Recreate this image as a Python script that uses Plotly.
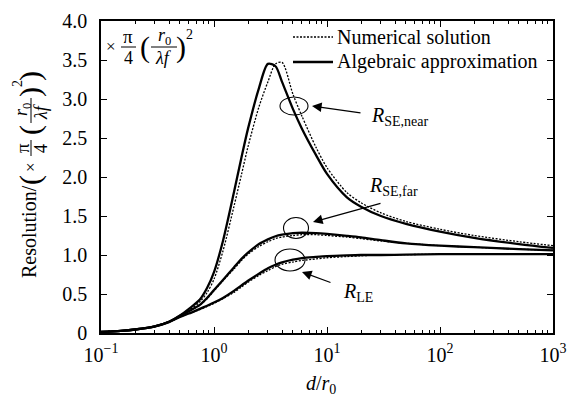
import plotly.graph_objects as go

# ---------------- data ----------------
x_vals = [0.1, 0.15, 0.2, 0.3, 0.4, 0.5, 0.6, 0.75, 0.87, 1.0, 1.2, 1.5, 1.75, 2.0,
          2.5, 3.0, 3.5, 4.0, 5.0, 6.0, 8.0, 10, 15, 20, 30, 50, 100, 200, 500, 1000]

near_alg = [0.015, 0.028, 0.045, 0.085, 0.145, 0.225, 0.31, 0.43, 0.58, 0.78, 1.18,
            1.80, 2.25, 2.62, 3.14, 3.45, 3.42, 3.22, 2.87, 2.62, 2.28, 2.04, 1.74,
            1.62, 1.50, 1.40, 1.30, 1.22, 1.14, 1.09]
near_num = [0.015, 0.028, 0.045, 0.085, 0.14, 0.215, 0.29, 0.40, 0.52, 0.69, 1.05,
            1.62, 2.03, 2.39, 2.90, 3.22, 3.45, 3.47, 3.06, 2.78, 2.38, 2.12, 1.80,
            1.67, 1.54, 1.43, 1.33, 1.25, 1.17, 1.12]
far_alg = [0.015, 0.028, 0.045, 0.085, 0.145, 0.22, 0.28, 0.36, 0.45, 0.55, 0.68,
           0.84, 0.95, 1.03, 1.14, 1.20, 1.24, 1.26, 1.28, 1.285, 1.28, 1.27, 1.245,
           1.225, 1.19, 1.15, 1.12, 1.10, 1.075, 1.06]
far_num = [0.015, 0.028, 0.045, 0.085, 0.145, 0.22, 0.28, 0.36, 0.44, 0.54, 0.67,
           0.82, 0.93, 1.01, 1.11, 1.17, 1.21, 1.23, 1.25, 1.26, 1.26, 1.25, 1.23,
           1.21, 1.18, 1.15, 1.12, 1.10, 1.075, 1.06]
le_alg = [0.015, 0.028, 0.045, 0.085, 0.14, 0.205, 0.25, 0.31, 0.35, 0.39, 0.45,
          0.54, 0.61, 0.67, 0.76, 0.83, 0.875, 0.905, 0.94, 0.96, 0.975, 0.985,
          0.995, 1.0, 1.0, 1.005, 1.01, 1.01, 1.01, 1.01]
le_num = [0.015, 0.028, 0.045, 0.085, 0.14, 0.205, 0.25, 0.30, 0.34, 0.38, 0.44,
          0.52, 0.59, 0.65, 0.74, 0.80, 0.85, 0.88, 0.91, 0.93, 0.95, 0.965,
          0.98, 0.99, 1.0, 1.005, 1.01, 1.01, 1.01, 1.01]

legend_labels = ["Numerical solution", "Algebraic approximation"]
curve_labels = ["<i>R</i><sub>SE,near</sub>", "<i>R</i><sub>SE,far</sub>",
                "<i>R</i><sub>LE</sub>"]
x_title = "<i>d</i>/<i>r</i><sub>0</sub>"

x_tickvals = [0.1, 1, 10, 100, 1000]
x_ticktext = ["10<sup>\u22121</sup>", "10<sup>0</sup>", "10<sup>1</sup>",
              "10<sup>2</sup>", "10<sup>3</sup>"]
y_tickvals = [0, 0.5, 1.0, 1.5, 2.0, 2.5, 3.0, 3.5, 4.0]
y_ticktext = ["0", "0.5", "1.0", "1.5", "2.0", "2.5", "3.0", "3.5", "4.0"]

# ---------------- layout geometry ----------------
W, H = 569, 398
L, R, T, B = 101, 16, 21, 65
PW, PH = W - L - R, H - T - B
FONT = "Liberation Serif, Times New Roman, serif"


def px(xp):
    return (xp - L) / PW


def py(yp):
    return (H - B - yp) / PH


fig = go.Figure()

DASH = dict(color="black", width=1.3, dash="2px,1.5px")
SOLID = dict(color="black", width=2.3)
series = [
    (near_num, legend_labels[0], DASH),
    (near_alg, legend_labels[1], SOLID),
    (far_num, legend_labels[0], DASH),
    (far_alg, legend_labels[1], SOLID),
    (le_num, legend_labels[0], DASH),
    (le_alg, legend_labels[1], SOLID),
]
for yv, name, line in series:
    fig.add_trace(go.Scatter(x=x_vals, y=yv, mode="lines", name=name,
                             line=dict(shape="spline", smoothing=0.8, **line),
                             showlegend=False, hoverinfo="skip"))

annotations = []
shapes = []


def txt(t, xp, yp, size=17, angle=0, xanchor="center"):
    annotations.append(dict(xref="paper", yref="paper", x=px(xp), y=py(yp),
                            xanchor=xanchor, yanchor="middle", text=t, textangle=angle,
                            showarrow=False,
                            font=dict(family=FONT, size=size, color="black")))


def hline(x0, x1, y, width=1, dash=None):
    ln = dict(color="black", width=width)
    if dash:
        ln["dash"] = dash
    shapes.append(dict(type="line", xref="paper", yref="paper", x0=px(x0), x1=px(x1),
                       y0=py(y), y1=py(y), line=ln))


def vline(x, y0, y1, width=1):
    shapes.append(dict(type="line", xref="paper", yref="paper", x0=px(x), x1=px(x),
                       y0=py(y0), y1=py(y1), line=dict(color="black", width=width)))


# legend (drawn by hand to match the reference spacing)
hline(293, 333, 37, 1.3, "2px,1.5px")
txt(legend_labels[0], 335, 37, 20, xanchor="left")
hline(293, 333, 62, 2.3)
txt(legend_labels[1], 335, 62, 20, xanchor="left")

# ellipses
for cx, cy, rx, ry in [(294, 106, 14, 9), (296, 228, 12.5, 10.5), (290, 260, 15, 11)]:
    shapes.append(dict(type="circle", xref="paper", yref="paper",
                       x0=px(cx - rx), x1=px(cx + rx), y0=py(cy + ry), y1=py(cy - ry),
                       line=dict(color="black", width=1.1)))

# arrows
for (hx, hy), (tx, ty) in [((312, 106), (362, 113)), ((313, 222), (382, 203)),
                           ((302, 272), (332, 283))]:
    annotations.append(dict(xref="paper", yref="paper", x=px(hx), y=py(hy),
                            ax=tx - hx, ay=ty - hy, text="", showarrow=True,
                            arrowhead=2, arrowsize=1.6, arrowwidth=1.2,
                            arrowcolor="black"))

# curve labels
for t, lx, ly in zip(curve_labels, [369, 367, 341], [116, 186, 292]):
    txt(t, lx, ly, 20, xanchor="left")

# x-axis title
txt(x_title, 321, 384, 20)

# in-plot factor  x pi/4 (r0/lambda f)^2
txt("\u00d7", 111, 46, 17)
txt("\u03c0", 128, 36, 19)
txt("4", 128, 58, 18)
hline(121, 136, 47)
txt("(", 145, 47, 30)
txt("<i>r</i><sub>0</sub>", 164, 36, 18)
txt("<i>\u03bbf</i>", 163, 58, 18)
hline(151, 177, 47)
txt(")", 181, 47, 30)
txt("2", 189, 35, 14)

# rotated y-axis title built from pieces
txt("Resolution/", 29, 232, 20, -90)
txt("(", 30, 180, 30, -90)
txt("\u00d7", 30, 167, 17, -90)
txt("\u03c0", 22, 148, 19, -90)
txt("4", 41, 148, 18, -90)
vline(31, 140, 156)
txt("(", 30, 130, 30, -90)
txt("<i>r</i><sub>0</sub>", 22, 110, 18, -90)
txt("<i>\u03bbf</i>", 41, 111, 18, -90)
vline(31, 98, 123)
txt(")", 30, 92, 30, -90)
txt("2", 18, 84, 14, -90)
txt(")", 30, 76, 30, -90)

axis_common = dict(showline=True, linecolor="black", linewidth=1.5, mirror="allticks",
                   ticks="inside", tickcolor="black", ticklen=6, tickwidth=1,
                   showgrid=False, zeroline=False, automargin=False,
                   tickfont=dict(family=FONT, size=20, color="black"))

fig.update_layout(
    width=W, height=H,
    margin=dict(l=L, r=R, t=T, b=B, pad=0),
    paper_bgcolor="white", plot_bgcolor="white",
    font=dict(family=FONT, size=20, color="black"),
    xaxis=dict(type="log", range=[-1, 3], tickvals=x_tickvals, ticktext=x_ticktext,
               ticklabeloverflow="allow", ticklabelstandoff=3,
               minor=dict(ticks="inside", ticklen=3, tickcolor="black", dtick="D1",
                          showgrid=False),
               **axis_common),
    yaxis=dict(range=[0, 4], tickvals=y_tickvals, ticktext=y_ticktext,
               ticklabelstandoff=8, **axis_common),
    showlegend=False,
    annotations=annotations,
    shapes=shapes,
)

fig.write_html("out.html", config={"displayModeBar": False},
               post_script="document.body.style.margin='0px';"
                           "document.body.style.padding='0px';")
